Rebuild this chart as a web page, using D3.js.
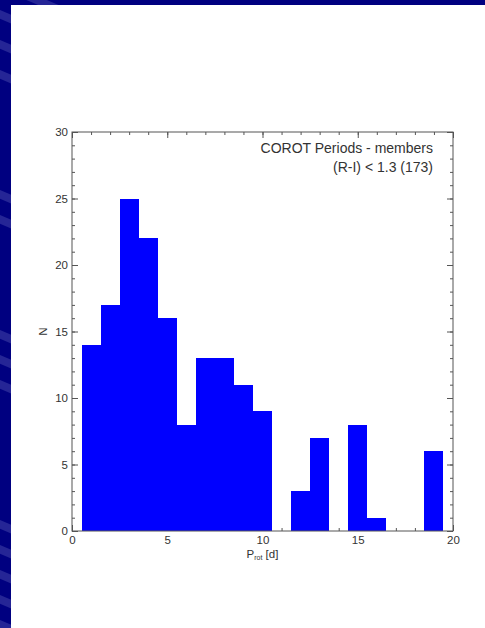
<!DOCTYPE html>
<html>
<head>
<meta charset="utf-8">
<script src="https://cdn.jsdelivr.net/npm/d3@7"></script>
<style>
  html, body { margin: 0; padding: 0; background: #000080; }
  svg { display: block; }
  text { font-family: "Liberation Sans", Arial, Helvetica, sans-serif; }
</style>
</head>
<body>
<svg id="chart" width="485" height="628"></svg>
<script>
// histogram of rotation periods, 1 day bins starting at 0.5
var binStart = [0.5, 1.5, 2.5, 3.5, 4.5, 5.5, 6.5, 7.5, 8.5, 9.5,
                10.5, 11.5, 12.5, 13.5, 14.5, 15.5, 16.5, 17.5, 18.5];
var counts   = [14, 17, 25, 22, 16, 8, 13, 13, 11, 9,
                0, 3, 7, 0, 8, 1, 0, 0, 6];
var binWidth = 1;

var xTicks = [0, 5, 10, 15, 20];
var yTicks = [0, 5, 10, 15, 20, 25, 30];
var titleLines = ["COROT Periods - members", "(R-I) < 1.3 (173)"];

var svg = d3.select("#chart");

// slide background: navy with lighter diagonal stripes, white panel
var bg = svg.append("g");
bg.append("rect").attr("width", 485).attr("height", 628).attr("fill", "#000080");
var stripeY = [-20, 10, 40, 70, 190, 215, 330, 355, 380, 520, 545, 570, 595, 620];
bg.selectAll("line.stripe")
    .data(stripeY)
  .enter().append("line")
    .attr("x1", -10).attr("y1", function(d) { return d; })
    .attr("x2", 60).attr("y2", function(d) { return d + 30; })
    .attr("stroke", "#3535a0")
    .attr("stroke-opacity", 0.7)
    .attr("stroke-width", 8);
bg.append("rect")
    .attr("x", 11).attr("y", 5)
    .attr("width", 474).attr("height", 623)
    .attr("fill", "#ffffff");

var plotL = 72, plotR = 453, plotT = 132, plotB = 531;

var x = d3.scaleLinear().domain([0, 20]).range([plotL, plotR]);
var y = d3.scaleLinear().domain([0, 30]).range([plotB, plotT]);

var axisColor = "#555";
var textColor = "#333";

function styleAxis(g) {
  g.select(".domain").remove();
  g.selectAll(".tick line").attr("stroke", axisColor).attr("stroke-width", 1);
  g.selectAll(".tick text")
    .attr("fill", textColor)
    .style("font-size", "11.5px");
}

var minorX = d3.range(0, 21, 1);
var minorY = d3.range(0, 31, 1);

// bottom
svg.append("g").attr("transform", "translate(0," + plotB + ")")
    .call(d3.axisBottom(x).tickValues(minorX).tickSize(-3).tickFormat(""))
    .call(styleAxis);
svg.append("g").attr("transform", "translate(0," + plotB + ")")
    .call(d3.axisBottom(x).tickValues(xTicks).tickSizeInner(-6).tickPadding(5).tickFormat(d3.format("d")))
    .call(styleAxis);
// top
svg.append("g").attr("transform", "translate(0," + plotT + ")")
    .call(d3.axisTop(x).tickValues(minorX).tickSize(-3).tickFormat(""))
    .call(styleAxis);
svg.append("g").attr("transform", "translate(0," + plotT + ")")
    .call(d3.axisTop(x).tickValues(xTicks).tickSize(-6).tickFormat(""))
    .call(styleAxis);
// left
svg.append("g").attr("transform", "translate(" + plotL + ",0)")
    .call(d3.axisLeft(y).tickValues(minorY).tickSize(-3).tickFormat(""))
    .call(styleAxis);
svg.append("g").attr("transform", "translate(" + plotL + ",0)")
    .call(d3.axisLeft(y).tickValues(yTicks).tickSizeInner(-6).tickPadding(4).tickFormat(d3.format("d")))
    .call(styleAxis);
// right
svg.append("g").attr("transform", "translate(" + plotR + ",0)")
    .call(d3.axisRight(y).tickValues(minorY).tickSize(-3).tickFormat(""))
    .call(styleAxis);
svg.append("g").attr("transform", "translate(" + plotR + ",0)")
    .call(d3.axisRight(y).tickValues(yTicks).tickSize(-6).tickFormat(""))
    .call(styleAxis);

// bars
svg.append("g")
  .selectAll("rect")
  .data(binStart.map(function(b, i) { return {x0: b, n: counts[i]}; }))
  .enter().append("rect")
    .attr("x", function(d) { return Math.round(x(d.x0)); })
    .attr("width", function(d) { return Math.round(x(d.x0 + binWidth)) - Math.round(x(d.x0)); })
    .attr("y", function(d) { return Math.round(y(d.n)); })
    .attr("height", function(d) { return plotB - Math.round(y(d.n)); })
    .attr("fill", "#0000ff")
    .attr("shape-rendering", "crispEdges");

// frame
svg.append("rect")
    .attr("x", plotL).attr("y", plotT)
    .attr("width", plotR - plotL).attr("height", plotB - plotT)
    .attr("fill", "none")
    .attr("stroke", axisColor)
    .attr("stroke-width", 1);

// labels
svg.selectAll("text.title")
  .data(titleLines)
  .enter().append("text")
    .attr("class", "title")
    .attr("x", 433)
    .attr("y", function(d, i) { return 153 + i * 19; })
    .attr("text-anchor", "end")
    .attr("fill", textColor)
    .style("font-size", "14px")
    .text(function(d) { return d; });

var xl = svg.append("text")
    .attr("x", x(10))
    .attr("y", 558)
    .attr("text-anchor", "middle")
    .attr("fill", textColor)
    .style("font-size", "11.5px");
xl.append("tspan").text("P");
xl.append("tspan").text("rot").style("font-size", "7px").attr("dy", 2);
xl.append("tspan").text(" [d]").attr("dy", -2);

svg.append("text")
    .attr("transform", "translate(47," + y(15) + ") rotate(-90)")
    .attr("text-anchor", "middle")
    .attr("fill", textColor)
    .style("font-size", "11.5px")
    .text("N");
</script>
</body>
</html>
